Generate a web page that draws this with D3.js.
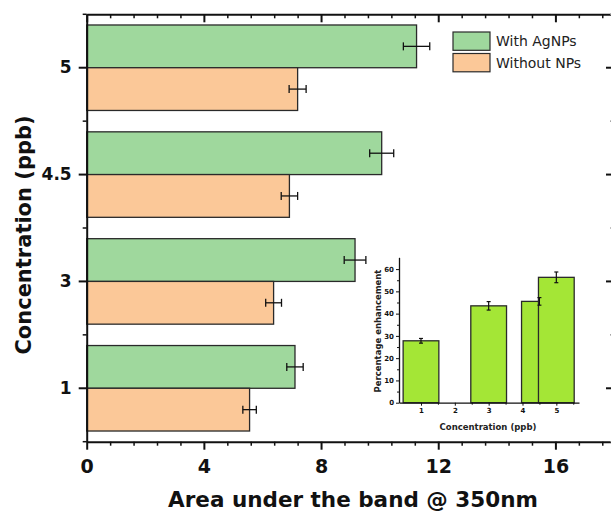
<!DOCTYPE html>
<html>
<head>
<meta charset="utf-8">
<script src="https://cdn.jsdelivr.net/npm/d3@7"></script>
<style>
  body { margin: 0; background: #fff; }
  svg { display: block; font-family: "Century Gothic", "DejaVu Sans", sans-serif; }
  .axis path, .axis line { stroke: #111; }
</style>
</head>
<body>
<div id="chart"></div>
<script>
// main chart data (categories listed top to bottom)
const concentrations = ["5", "4.5", "3", "1"];
const withAgNPs = [11.26, 10.07, 9.16, 7.11];
const withAgNPsErr = [0.45, 0.41, 0.37, 0.28];
const withoutNPs = [7.20, 6.92, 6.38, 5.56];
const withoutNPsErr = [0.29, 0.28, 0.27, 0.23];
const xTicks = [0, 4, 8, 12, 16];

// inset data
const insetConc = [1, 3, 4.5, 5];
const enhancement = [27.8, 43.5, 45.5, 56.3];
const enhancementErr = [1.05, 1.9, 1.7, 2.4];
const insetXTicks = [1, 2, 3, 4, 5];
const insetYTicks = [0, 10, 20, 30, 40, 50, 60];

const width = 611, height = 514;
const plotLeft = 86.7, plotRight = 614, plotTop = 14.3, plotBottom = 441.7;

const svg = d3.select('#chart').append('svg')
  .attr('width', width)
  .attr('height', height);

const x = d3.scaleLinear().domain([0, 18]).range([plotLeft, plotRight]);
const y = d3.scaleBand().domain(concentrations).range([plotTop, plotBottom]).padding(0);
const sub = d3.scaleBand().domain(['with', 'without'])
  .range([0, y.bandwidth()]).paddingInner(0).paddingOuter(0.25);

const rows = concentrations.map((c, i) => ({
  c: c,
  bars: [
    {key: 'with', v: withAgNPs[i], e: withAgNPsErr[i], fill: '#9fd89d'},
    {key: 'without', v: withoutNPs[i], e: withoutNPsErr[i], fill: '#fbc898'}
  ]
}));

// bars
const groups = svg.selectAll('g.row')
  .data(rows)
  .enter()
  .append('g')
    .attr('class', 'row')
    .attr('transform', d => `translate(0, ${y(d.c)})`);

groups.selectAll('rect')
  .data(d => d.bars)
  .enter()
  .append('rect')
    .attr('x', x(0))
    .attr('y', d => sub(d.key))
    .attr('width', d => x(d.v) - x(0))
    .attr('height', sub.bandwidth())
    .attr('fill', d => d.fill)
    .attr('stroke', '#2a2a2a')
    .attr('stroke-width', 1.3);

// error bars
const err = groups.selectAll('g.err')
  .data(d => d.bars)
  .enter()
  .append('g')
    .attr('class', 'err')
    .attr('stroke', '#111')
    .attr('stroke-width', 1.3);
err.append('line')
  .attr('x1', d => x(d.v - d.e)).attr('x2', d => x(d.v + d.e))
  .attr('y1', d => sub(d.key) + sub.bandwidth() / 2)
  .attr('y2', d => sub(d.key) + sub.bandwidth() / 2);
[-1, 1].forEach(s => {
  err.append('line')
    .attr('x1', d => x(d.v + s * d.e)).attr('x2', d => x(d.v + s * d.e))
    .attr('y1', d => sub(d.key) + sub.bandwidth() / 2 - 4)
    .attr('y2', d => sub(d.key) + sub.bandwidth() / 2 + 4);
});

// minor tick helpers
const xMinor = d3.range(0, 18.01, 0.8).filter(v => Math.abs(v / 4 - Math.round(v / 4)) > 0.01);
const yMinor = d3.range(concentrations.length + 1).map(i => plotTop + i * y.step());

// bottom axis
const xAxisG = svg.append('g')
  .attr('class', 'axis')
  .attr('transform', `translate(0, ${plotBottom})`)
  .call(d3.axisBottom(x).tickValues(xTicks).tickSize(8).tickSizeOuter(0));
xAxisG.select('.domain').attr('stroke-width', 2);
xAxisG.selectAll('.tick line').attr('stroke-width', 2);
xAxisG.selectAll('text')
  .attr('y', 31).attr('dy', 0)
  .attr('font-size', 19).attr('font-weight', 'bold').attr('fill', '#111')
  .attr('font-family', '"Century Gothic", "DejaVu Sans", sans-serif');
svg.append('g').attr('class', 'axis')
  .attr('transform', `translate(0, ${plotBottom})`)
  .call(d3.axisBottom(x).tickValues(xMinor).tickSize(4).tickFormat(''))
  .call(g => g.select('.domain').remove())
  .selectAll('line').attr('stroke-width', 1.5);

// top axis
const topG = svg.append('g').attr('class', 'axis')
  .attr('transform', `translate(0, ${plotTop})`)
  .call(d3.axisBottom(x).tickValues(xTicks).tickSize(8).tickSizeOuter(0).tickFormat(''));
topG.select('.domain').attr('stroke-width', 2);
topG.selectAll('.tick line').attr('stroke-width', 2);
svg.append('g').attr('class', 'axis')
  .attr('transform', `translate(0, ${plotTop})`)
  .call(d3.axisBottom(x).tickValues(xMinor).tickSize(4).tickFormat(''))
  .call(g => g.select('.domain').remove())
  .selectAll('line').attr('stroke-width', 1.5);

// left axis
const yAxisG = svg.append('g').attr('class', 'axis')
  .attr('transform', `translate(${plotLeft}, 0)`)
  .call(d3.axisLeft(y).tickSize(8).tickPadding(7).tickSizeOuter(0));
yAxisG.select('.domain').attr('stroke-width', 2);
yAxisG.selectAll('.tick line').attr('stroke-width', 2);
yAxisG.selectAll('text')
  .attr('font-size', 17).attr('font-weight', 'bold').attr('fill', '#111')
  .attr('font-family', '"Century Gothic", "DejaVu Sans", sans-serif');
svg.append('g').selectAll('line')
  .data(yMinor).enter().append('line')
    .attr('x1', plotLeft - 4).attr('x2', plotLeft)
    .attr('y1', d => d).attr('y2', d => d)
    .attr('stroke', '#111').attr('stroke-width', 1.5);

// right axis
const rightG = svg.append('g').attr('class', 'axis')
  .attr('transform', `translate(${plotRight}, 0)`)
  .call(d3.axisLeft(y).tickSize(8).tickSizeOuter(0).tickFormat(''));
rightG.select('.domain').attr('stroke-width', 2);
rightG.selectAll('.tick line').attr('stroke-width', 2).attr('x2', -8);
svg.append('g').selectAll('line')
  .data(yMinor).enter().append('line')
    .attr('x1', plotRight - 4).attr('x2', plotRight)
    .attr('y1', d => d).attr('y2', d => d)
    .attr('stroke', '#888').attr('stroke-width', 1.2);

// axis titles
svg.append('text')
  .attr('x', 353).attr('y', 507)
  .attr('text-anchor', 'middle')
  .attr('font-size', 21.5).attr('font-weight', 'bold').attr('fill', '#111')
  .text('Area under the band @ 350nm');
svg.append('text')
  .attr('transform', 'translate(31, 235) rotate(-90)')
  .attr('text-anchor', 'middle')
  .attr('font-size', 21).attr('font-weight', 'bold').attr('fill', '#111')
  .text('Concentration (ppb)');

// legend
const legendItems = [
  {label: 'With AgNPs', fill: '#9fd89d'},
  {label: 'Without NPs', fill: '#fbc898'}
];
const legend = svg.append('g').attr('transform', 'translate(453, 32)');
legendItems.forEach((d, i) => {
  legend.append('rect')
    .attr('x', 0).attr('y', i * 21.5)
    .attr('width', 37).attr('height', 18.3)
    .attr('fill', d.fill).attr('stroke', '#2a2a2a').attr('stroke-width', 1.2);
  legend.append('text')
    .attr('x', 43).attr('y', i * 21.5 + 14)
    .attr('font-size', 14).attr('fill', '#222')
    .text(d.label);
});

// inset
const ix = d3.scaleLinear().domain([0.35, 5.67]).range([399, 579]);
const iy = d3.scaleLinear().domain([0, 65.3]).range([402.7, 257.3]);
const halfW = 0.528;
const inset = svg.append('g');

inset.selectAll('rect')
  .data(insetConc)
  .enter()
  .append('rect')
    .attr('x', d => ix(d - halfW))
    .attr('y', (d, i) => iy(enhancement[i]))
    .attr('width', d => ix(d + halfW) - ix(d - halfW))
    .attr('height', (d, i) => iy(0) - iy(enhancement[i]))
    .attr('fill', '#a4e636')
    .attr('stroke', '#2a2a2a')
    .attr('stroke-width', 1.3);

const ierr = inset.selectAll('g.ierr')
  .data(insetConc)
  .enter()
  .append('g')
    .attr('stroke', '#111').attr('stroke-width', 1.2);
ierr.append('line')
  .attr('x1', d => ix(d)).attr('x2', d => ix(d))
  .attr('y1', (d, i) => iy(enhancement[i] - enhancementErr[i]))
  .attr('y2', (d, i) => iy(enhancement[i] + enhancementErr[i]));
[-1, 1].forEach(s => {
  ierr.append('line')
    .attr('x1', d => ix(d) - 2).attr('x2', d => ix(d) + 2)
    .attr('y1', (d, i) => iy(enhancement[i] + s * enhancementErr[i]))
    .attr('y2', (d, i) => iy(enhancement[i] + s * enhancementErr[i]));
});

const ixAxis = inset.append('g').attr('class', 'axis')
  .attr('transform', `translate(0, ${iy(0)})`)
  .call(d3.axisBottom(ix).tickValues(insetXTicks).tickFormat(d3.format('d'))
    .tickSize(3).tickPadding(2).tickSizeOuter(0));
ixAxis.select('.domain').attr('stroke-width', 1.3);
ixAxis.selectAll('text').attr('font-size', 7).attr('font-weight', 'bold').attr('fill', '#111')
  .attr('font-family', '"Century Gothic", "DejaVu Sans", sans-serif');
inset.append('g').attr('class', 'axis')
  .attr('transform', `translate(0, ${iy(0)})`)
  .call(d3.axisBottom(ix).tickValues([1.5, 2.5, 3.5, 4.5, 5.5]).tickSize(2).tickFormat(''))
  .call(g => g.select('.domain').remove());

const iyAxis = inset.append('g').attr('class', 'axis')
  .attr('transform', 'translate(399, 0)')
  .call(d3.axisLeft(iy).tickValues(insetYTicks).tickSize(3).tickPadding(2).tickSizeOuter(0));
iyAxis.select('.domain').attr('stroke-width', 1.3);
iyAxis.selectAll('text').attr('font-size', 7).attr('font-weight', 'bold').attr('fill', '#111')
  .attr('font-family', '"Century Gothic", "DejaVu Sans", sans-serif');
inset.append('g').attr('class', 'axis')
  .attr('transform', 'translate(399, 0)')
  .call(d3.axisLeft(iy).tickValues(d3.range(5, 65, 10)).tickSize(2).tickFormat(''))
  .call(g => g.select('.domain').remove());

inset.append('text')
  .attr('x', 488).attr('y', 430)
  .attr('text-anchor', 'middle')
  .attr('font-size', 8.5).attr('font-weight', 'bold').attr('fill', '#222')
  .text('Concentration (ppb)');
inset.append('text')
  .attr('transform', 'translate(381, 331) rotate(-90)')
  .attr('text-anchor', 'middle')
  .attr('font-size', 8.5).attr('font-weight', 'bold').attr('fill', '#222')
  .text('Percentage enhancement');
</script>
</body>
</html>
